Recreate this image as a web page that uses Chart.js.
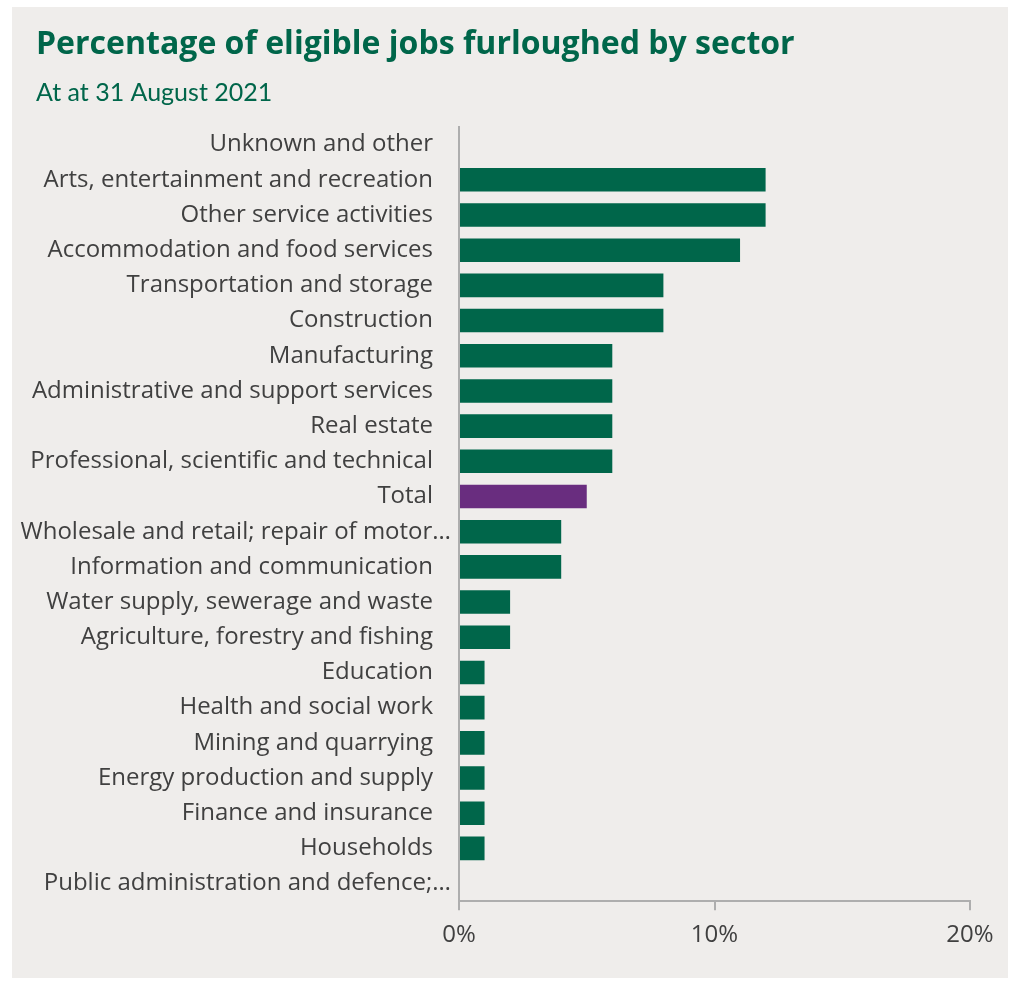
<!DOCTYPE html>
<html>
<head>
<meta charset="utf-8">
<script src="https://cdn.jsdelivr.net/npm/chart.js@4"></script>
<style>
  html, body { margin: 0; padding: 0; background: #ffffff; }
  #panel { position: absolute; left: 12px; top: 7px; width: 996px; height: 971px; background: #efedeb; }
  canvas { display: block; }
</style>
</head>
<body>
<div id="panel"><canvas id="c" width="996" height="971"></canvas></div>
<script>
const categories = [
  "Unknown and other",
  "Arts, entertainment and recreation",
  "Other service activities",
  "Accommodation and food services",
  "Transportation and storage",
  "Construction",
  "Manufacturing",
  "Administrative and support services",
  "Real estate",
  "Professional, scientific and technical",
  "Total",
  "Wholesale and retail; repair of motor\u2026",
  "Information and communication",
  "Water supply, sewerage and waste",
  "Agriculture, forestry and fishing",
  "Education",
  "Health and social work",
  "Mining and quarrying",
  "Energy production and supply",
  "Finance and insurance",
  "Households",
  "Public administration and defence;\u2026"
];
const furloughedPct = [0, 12, 12, 11, 8, 8, 6, 6, 6, 6, 5, 4, 4, 2, 2, 1, 1, 1, 1, 1, 1, 0];
const xTicks = [0, 10, 20];
const titleText = "Percentage of eligible jobs furloughed by sector";
const subtitleText = "At at 31 August 2021";

const GREEN = "#00664a";
const PURPLE = "#692d7f";
const AXIS = "#aeaeae";

// fit the title font so the title spans the same width as the original
function fitSize(text, family, weight, targetWidth) {
  const ctx = document.createElement("canvas").getContext("2d");
  ctx.font = weight + " 100px '" + family + "'";
  return 100 * targetWidth / ctx.measureText(text).width;
}
const titleSize = fitSize(titleText, "Open Sans", "700", 759);

// truncated labels (ending in an ellipsis) sit closer to the axis, as in the original
const truncShift = {
  id: "truncShift",
  afterLayout(chart) {
    chart.scales.y.left = 0; // let long labels use the left margin instead of being clipped
  },
  beforeDraw(chart) {
    const items = chart.scales.y.getLabelItems();
    items.forEach(it => {
      const lbl = Array.isArray(it.label) ? it.label.join("") : String(it.label);
      if (lbl.endsWith("\u2026") && !it._shifted) {
        it.options.translation = [it.options.translation[0] + 18, it.options.translation[1]];
        it._shifted = true;
      }
    });
  }
};

new Chart(document.getElementById("c"), {
  type: "bar",
  data: {
    labels: categories,
    datasets: [{
      data: furloughedPct,
      backgroundColor: categories.map(c => c === "Total" ? PURPLE : GREEN),
      barPercentage: 0.67,
      categoryPercentage: 1.0,
      borderWidth: 0
    }]
  },
  plugins: [truncShift],
  options: {
    indexAxis: "y",
    responsive: false,
    animation: false,
    layout: { padding: { left: 24, right: 38, top: 10, bottom: 17 } },
    plugins: {
      legend: { display: false },
      tooltip: { enabled: false },
      title: {
        display: true, text: titleText, align: "start", color: GREEN,
        font: { family: "Open Sans", weight: "bold", size: titleSize, lineHeight: "36px" },
        padding: { top: 10, bottom: 10 }
      },
      subtitle: {
        display: true, text: subtitleText, align: "start", color: GREEN,
        font: { family: "Lato", weight: "normal", size: 25, lineHeight: "30px" },
        padding: { top: 5, bottom: 19 }
      }
    },
    scales: {
      x: {
        min: 0, max: 20,
        afterBuildTicks: s => { s.ticks = xTicks.map(v => ({ value: v })); },
        ticks: {
          callback: v => v + "%",
          color: "#404040",
          font: { family: "Open Sans", size: 24 },
          padding: 11,
          maxRotation: 0
        },
        grid: { display: true, drawOnChartArea: false, drawTicks: true, tickLength: 9, color: AXIS, lineWidth: 2 },
        border: { display: true, color: AXIS, width: 2 }
      },
      y: {
        afterFit: s => { s.width = 423; },
        ticks: {
          color: "#404040",
          font: { family: "Open Sans", size: 24 },
          padding: 26,
          autoSkip: false
        },
        grid: { display: false, drawTicks: false },
        border: { display: true, color: AXIS, width: 2 }
      }
    }
  }
});
</script>
</body>
</html>
